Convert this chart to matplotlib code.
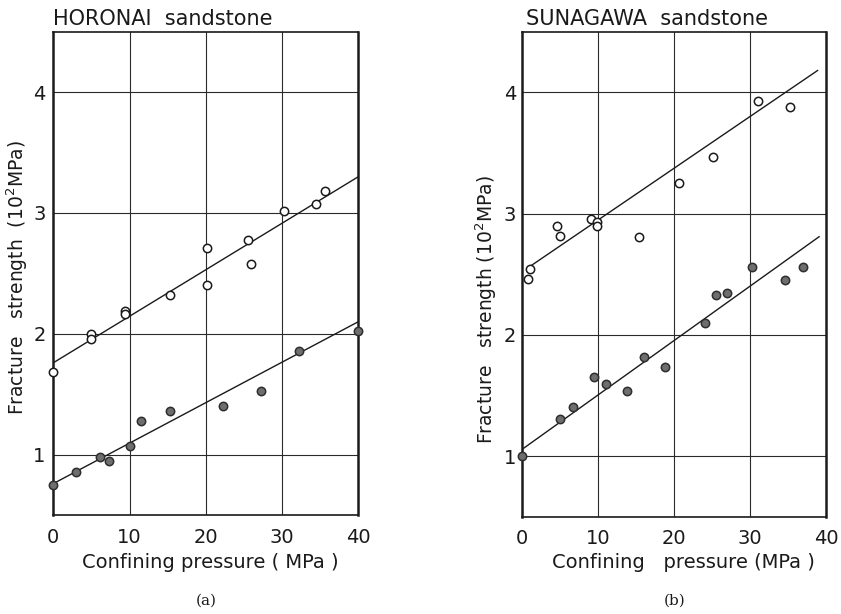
import matplotlib
matplotlib.use("Agg")
import matplotlib.pyplot as plt

plt.rcParams['font.family'] = ['DejaVu Sans']

# HORONAI sandstone: confining pressure (MPa) vs fracture strength (10^2 MPa)
horonai_open_p = [0, 5.0, 5.0, 9.4, 9.4, 15.3, 20.1, 20.1, 25.5, 25.9, 30.3, 34.5, 35.6]
horonai_open_s = [1.68, 2.00, 1.96, 2.19, 2.16, 2.32, 2.71, 2.40, 2.78, 2.58, 3.02, 3.07, 3.18]
horonai_filled_p = [0, 3.0, 6.1, 7.3, 10.0, 11.5, 15.3, 22.2, 27.2, 32.2, 40.0]
horonai_filled_s = [0.75, 0.86, 0.98, 0.95, 1.07, 1.28, 1.36, 1.40, 1.53, 1.86, 2.02]
horonai_fit_p = [0, 40]
horonai_open_fit = [1.76, 3.30]
horonai_filled_fit = [0.76, 2.10]

# SUNAGAWA sandstone
sunagawa_open_p = [0.8, 1.1, 4.7, 5.1, 9.15, 9.85, 9.85, 15.4, 20.7, 25.2, 31.1, 35.3]
sunagawa_open_s = [2.46, 2.54, 2.90, 2.82, 2.96, 2.93, 2.90, 2.81, 3.25, 3.47, 3.93, 3.88]
sunagawa_filled_p = [0, 5.1, 6.8, 9.5, 11.1, 13.8, 16.1, 18.9, 24.1, 25.5, 27.0, 30.3, 34.6, 37.0]
sunagawa_filled_s = [1.00, 1.31, 1.41, 1.65, 1.60, 1.54, 1.82, 1.74, 2.10, 2.33, 2.35, 2.56, 2.45, 2.56]
sunagawa_open_fit_p = [1.2, 38.9]
sunagawa_open_fit = [2.57, 4.18]
sunagawa_filled_fit_p = [0, 39.1]
sunagawa_filled_fit = [1.055, 2.81]

x_ticks = [0, 10, 20, 30, 40]
y_ticks = [1, 2, 3, 4]

W, H = 841, 614
fig = plt.figure(figsize=(W / 100, H / 100), dpi=100)
ax_a = fig.add_axes([0.0634, 0.1612, 0.3627, 0.7872])
ax_b = fig.add_axes([0.6203, 0.1580, 0.3618, 0.7904])

ink = '#1a1a1a'
fill_grey = '#6e6e6e'
fs = 14


def px(x, y):
    return x / W, 1 - y / H


def style_axes(ax, ypad):
    ax.set_xlim(0, 40)
    ax.set_ylim(0.5, 4.5)
    ax.set_xticks(x_ticks)
    ax.set_yticks(y_ticks)
    ax.tick_params(length=0, labelsize=fs, colors=ink)
    ax.tick_params(axis='x', pad=9)
    ax.tick_params(axis='y', pad=ypad)
    for gx in x_ticks[1:-1]:
        ax.axvline(gx, color='#2a2a2a', lw=0.8, zorder=1)
    for gy in y_ticks:
        ax.axhline(gy, color='#2a2a2a', lw=0.8, zorder=1)
    for side, sp in ax.spines.items():
        sp.set_color(ink)
        sp.set_linewidth(1.8 if side in ('left', 'right') else 1.2)


def draw(ax, op, os_, fp, fs_, ofit_p, ofit, ffit_p, ffit):
    ax.plot(ofit_p, ofit, color=ink, lw=1.0, zorder=2)
    ax.plot(ffit_p, ffit, color=ink, lw=1.0, zorder=2)
    ax.plot(op, os_, 'o', ms=6, mfc='white', mec=ink, mew=1.1,
            clip_on=False, zorder=3)
    ax.plot(fp, fs_, 'o', ms=6, mfc=fill_grey, mec='#2e2e2e', mew=1.1,
            clip_on=False, zorder=3)


style_axes(ax_a, 5.5)
style_axes(ax_b, 4)

draw(ax_a, horonai_open_p, horonai_open_s, horonai_filled_p, horonai_filled_s,
     horonai_fit_p, horonai_open_fit, horonai_fit_p, horonai_filled_fit)
draw(ax_b, sunagawa_open_p, sunagawa_open_s, sunagawa_filled_p, sunagawa_filled_s,
     sunagawa_open_fit_p, sunagawa_open_fit, sunagawa_filled_fit_p, sunagawa_filled_fit)

# axis labels
fig.text(*px(17, 278), 'Fracture   strength  (10$^2$MPa)', fontsize=13.5, color=ink,
         rotation=90, ha='center', va='center')
fig.text(*px(486, 310), 'Fracture   strength (10$^2$MPa)', fontsize=13.5, color=ink,
         rotation=90, ha='center', va='center')
fig.text(*px(210, 562), 'Confining pressure ( MPa )', fontsize=fs, color=ink,
         ha='center', va='center')
fig.text(*px(683, 562), 'Confining   pressure (MPa )', fontsize=fs, color=ink,
         ha='center', va='center')

# panel titles
fig.text(*px(53, 19), 'HORONAI  sandstone', fontsize=15, color=ink,
         ha='left', va='center')
fig.text(*px(526, 19), 'SUNAGAWA  sandstone', fontsize=15, color=ink,
         ha='left', va='center')

# panel tags
fig.text(*px(206, 601), '(a)', fontsize=11, family='DejaVu Serif',
         color=ink, ha='center', va='center')
fig.text(*px(675, 601), '(b)', fontsize=11, family='DejaVu Serif',
         color=ink, ha='center', va='center')

fig.savefig('out.png', dpi=100, facecolor='white')
